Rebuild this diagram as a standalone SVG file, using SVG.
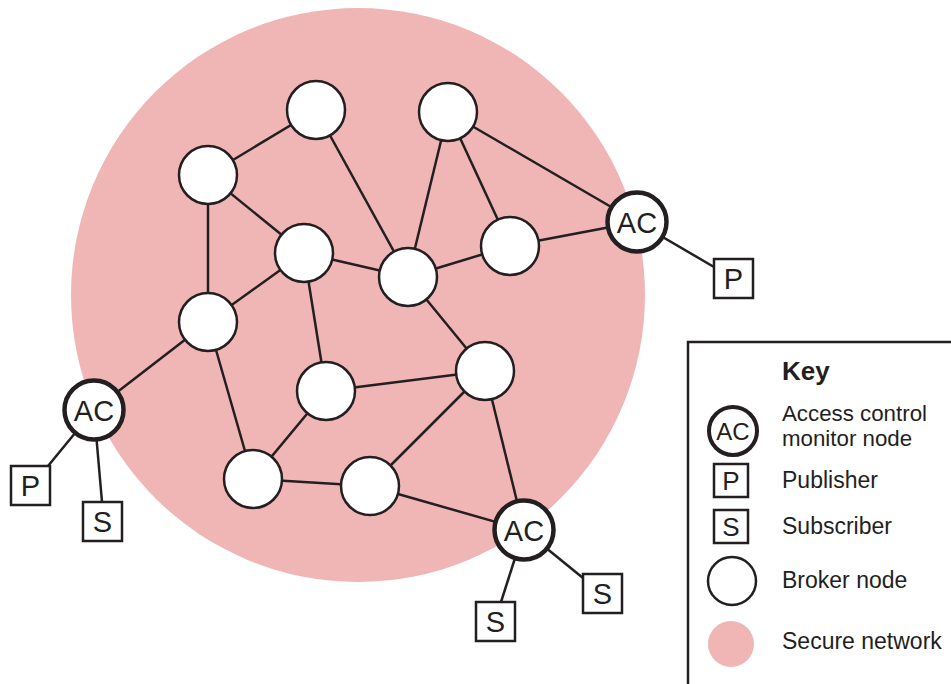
<svg xmlns="http://www.w3.org/2000/svg" width="951" height="684" viewBox="0 0 951 684">
<style>
.bg{fill:#ffffff}
.net{fill:#f0b6b6}
.edge{stroke:#231f20;stroke-width:2.5;fill:none}
.broker{fill:#ffffff;stroke:#231f20;stroke-width:2.5}
.ac{fill:#ffffff;stroke:#231f20;stroke-width:4.5}
.box{fill:#ffffff;stroke:#231f20;stroke-width:2.5}
.t{font-family:"Liberation Sans",Arial,Helvetica,sans-serif;fill:#231f20}
.lbl{font-size:29px;text-anchor:middle}
.key{font-size:23px}
.key2{font-size:22.3px}
</style>
<rect class="bg" x="0" y="0" width="951" height="684"/>
<circle id="secure-network" class="net" cx="358" cy="295" r="287"/>
<g id="connectors">
<line class="edge" x1="208" y1="175" x2="316" y2="110"/>
<line class="edge" x1="316" y1="110" x2="408" y2="277"/>
<line class="edge" x1="208" y1="175" x2="304" y2="253"/>
<line class="edge" x1="208" y1="175" x2="208" y2="322"/>
<line class="edge" x1="304" y1="253" x2="408" y2="277"/>
<line class="edge" x1="304" y1="253" x2="208" y2="322"/>
<line class="edge" x1="304" y1="253" x2="326" y2="391"/>
<line class="edge" x1="448" y1="112" x2="408" y2="277"/>
<line class="edge" x1="448" y1="112" x2="510" y2="246"/>
<line class="edge" x1="448" y1="112" x2="637" y2="222"/>
<line class="edge" x1="408" y1="277" x2="510" y2="246"/>
<line class="edge" x1="510" y1="246" x2="637" y2="222"/>
<line class="edge" x1="408" y1="277" x2="485" y2="371"/>
<line class="edge" x1="326" y1="391" x2="485" y2="371"/>
<line class="edge" x1="208" y1="322" x2="253" y2="479"/>
<line class="edge" x1="326" y1="391" x2="253" y2="479"/>
<line class="edge" x1="208" y1="322" x2="94" y2="410"/>
<line class="edge" x1="485" y1="371" x2="370" y2="486"/>
<line class="edge" x1="485" y1="371" x2="524" y2="530"/>
<line class="edge" x1="253" y1="479" x2="370" y2="486"/>
<line class="edge" x1="370" y1="486" x2="524" y2="530"/>
<line class="edge" x1="637" y1="222" x2="714" y2="267"/>
<line class="edge" x1="94" y1="410" x2="48" y2="466"/>
<line class="edge" x1="94" y1="410" x2="102" y2="502"/>
<line class="edge" x1="524" y1="530" x2="501" y2="602"/>
<line class="edge" x1="524" y1="530" x2="583" y2="578"/>
</g>
<g id="broker-1"><circle class="broker" cx="316" cy="110" r="29"/></g>
<g id="broker-2"><circle class="broker" cx="448" cy="112" r="29"/></g>
<g id="broker-3"><circle class="broker" cx="208" cy="175" r="29"/></g>
<g id="broker-4"><circle class="broker" cx="304" cy="253" r="29"/></g>
<g id="broker-5"><circle class="broker" cx="408" cy="277" r="29"/></g>
<g id="broker-6"><circle class="broker" cx="510" cy="246" r="29"/></g>
<g id="broker-7"><circle class="broker" cx="208" cy="322" r="29"/></g>
<g id="broker-8"><circle class="broker" cx="326" cy="391" r="29"/></g>
<g id="broker-9"><circle class="broker" cx="485" cy="371" r="29"/></g>
<g id="broker-10"><circle class="broker" cx="253" cy="479" r="29"/></g>
<g id="broker-11"><circle class="broker" cx="370" cy="486" r="29"/></g>
<g id="ac-right"><circle class="ac" cx="637" cy="222" r="29.5"/><text class="t lbl" x="637" y="232.5">AC</text></g>
<g id="ac-left"><circle class="ac" cx="94" cy="410" r="29.5"/><text class="t lbl" x="94" y="420.5">AC</text></g>
<g id="ac-bottom"><circle class="ac" cx="524" cy="530" r="29.5"/><text class="t lbl" x="524" y="540.5">AC</text></g>
<g id="pub-right"><rect class="box" x="714" y="259" width="39" height="39"/><text class="t lbl" x="733.5" y="289">P</text></g>
<g id="pub-left"><rect class="box" x="11" y="466" width="39" height="39"/><text class="t lbl" x="30.5" y="496">P</text></g>
<g id="sub-left"><rect class="box" x="83" y="502" width="39" height="39"/><text class="t lbl" x="102.5" y="532">S</text></g>
<g id="sub-bottom"><rect class="box" x="476" y="602" width="39" height="39"/><text class="t lbl" x="495.5" y="632">S</text></g>
<g id="sub-right"><rect class="box" x="583" y="574" width="39" height="39"/><text class="t lbl" x="602.5" y="604">S</text></g>
<g id="key">
<rect class="box" x="688" y="342" width="300" height="400"/>
<text class="t" x="782" y="380" font-size="26" font-weight="bold">Key</text>
<circle class="ac" cx="733" cy="431" r="24" style="stroke-width:4"/>
<text class="t" x="733" y="439.5" font-size="24" text-anchor="middle">AC</text>
<text class="t key2" x="782" y="420.5">Access control</text>
<text class="t key2" x="782" y="445.5">monitor node</text>
<rect class="box" x="714" y="464" width="34" height="33"/>
<text class="t" x="731" y="489.5" font-size="26" text-anchor="middle">P</text>
<text class="t key" x="782" y="488">Publisher</text>
<rect class="box" x="714" y="510" width="34" height="33"/>
<text class="t" x="731" y="535.5" font-size="26" text-anchor="middle">S</text>
<text class="t key" x="782" y="534">Subscriber</text>
<circle class="broker" cx="732" cy="581" r="24"/>
<text class="t key" x="782" y="588">Broker node</text>
<circle class="net" cx="731" cy="644" r="23"/>
<text class="t key" x="782" y="649">Secure network</text>
</g>
</svg>
